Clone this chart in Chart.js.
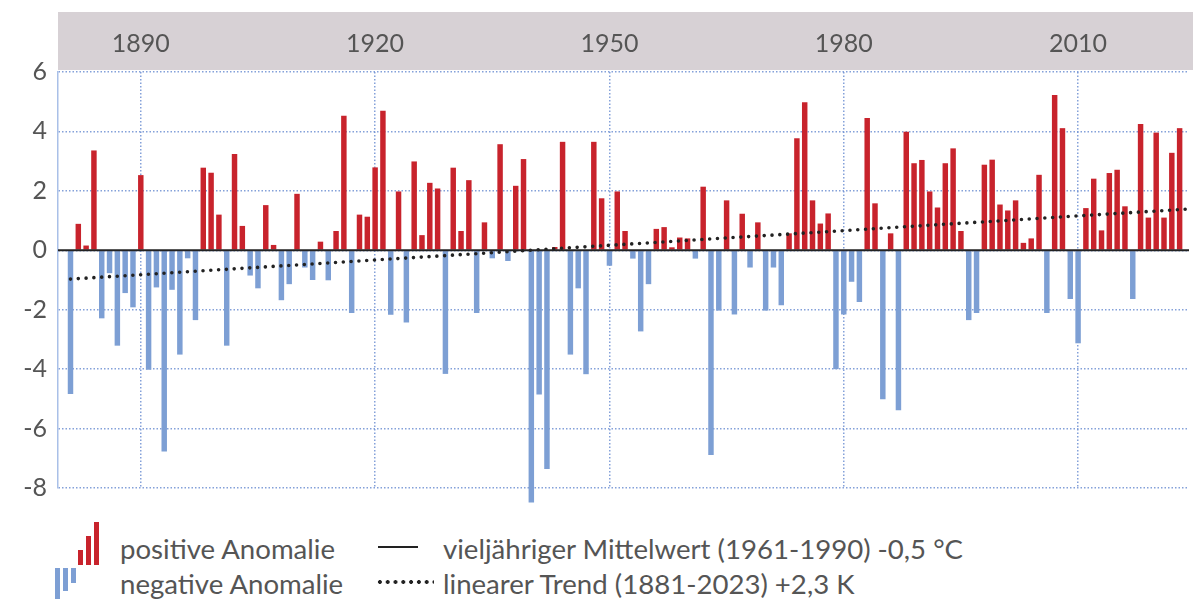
<!DOCTYPE html>
<html><head><meta charset="utf-8">
<script src="https://cdn.jsdelivr.net/npm/chart.js@4"></script>
<style>
html,body{margin:0;padding:0;background:#fff;width:1193px;height:600px;overflow:hidden;font-family:Lato,sans-serif;}
#wrap{position:absolute;left:0;top:0;width:1193px;height:515px;}
.leg{position:absolute;font-size:27.6px;color:#555;line-height:28px;white-space:nowrap;}
.ib{position:absolute;width:5px;}
</style></head><body>
<div id="wrap"><canvas id="c" width="1193" height="515"></canvas></div>
<div class="ib" style="left:78px;top:550px;height:15px;background:#c8232c"></div>
<div class="ib" style="left:86px;top:536px;height:29px;background:#c8232c"></div>
<div class="ib" style="left:94px;top:522px;height:43px;background:#c8232c"></div>
<div class="ib" style="left:55px;top:568px;height:31px;background:#7d9fd4"></div>
<div class="ib" style="left:63px;top:568px;height:23px;background:#7d9fd4"></div>
<div class="ib" style="left:71px;top:568px;height:15px;background:#7d9fd4"></div>
<div class="leg" style="left:120px;top:535px">positive Anomalie</div>
<div class="leg" style="left:120px;top:570px">negative Anomalie</div>
<div style="position:absolute;left:378px;top:546px;width:40px;height:2px;background:#222"></div>
<div style="position:absolute;left:376px;top:579px;width:58px;height:6px;background:radial-gradient(circle,#222 1.7px,transparent 2.2px);background-size:7.8px 6px;background-repeat:repeat-x"></div>
<div class="leg" style="left:443px;top:535px">vieljähriger Mittelwert (1961-1990) -0,5 °C</div>
<div class="leg" style="left:443px;top:570px">linearer Trend (1881-2023) +2,3 K</div>
<script>
const years = [
1881,1882,1883,1884,1885,1886,1887,1888,1889,1890,
1891,1892,1893,1894,1895,1896,1897,1898,1899,1900,
1901,1902,1903,1904,1905,1906,1907,1908,1909,1910,
1911,1912,1913,1914,1915,1916,1917,1918,1919,1920,
1921,1922,1923,1924,1925,1926,1927,1928,1929,1930,
1931,1932,1933,1934,1935,1936,1937,1938,1939,1940,
1941,1942,1943,1944,1945,1946,1947,1948,1949,1950,
1951,1952,1953,1954,1955,1956,1957,1958,1959,1960,
1961,1962,1963,1964,1965,1966,1967,1968,1969,1970,
1971,1972,1973,1974,1975,1976,1977,1978,1979,1980,
1981,1982,1983,1984,1985,1986,1987,1988,1989,1990,
1991,1992,1993,1994,1995,1996,1997,1998,1999,2000,
2001,2002,2003,2004,2005,2006,2007,2008,2009,2010,
2011,2012,2013,2014,2015,2016,2017,2018,2019,2020,
2021,2022,2023];
const anomalies = [
-4.84,0.89,0.16,3.36,-2.29,-0.77,-3.21,-1.44,-1.92,2.53,
-4.02,-1.25,-6.77,-1.33,-3.51,-0.27,-2.35,2.78,2.61,1.20,
-3.21,3.24,0.82,-0.85,-1.28,1.52,0.18,-1.68,-1.14,1.90,
-0.58,-1.00,0.29,-1.01,0.65,4.53,-2.11,1.20,1.13,2.79,
4.70,-2.17,1.98,-2.43,2.99,0.51,2.27,2.08,-4.16,2.78,
0.65,2.36,-2.11,0.94,-0.27,3.57,-0.36,2.17,3.07,-8.49,
-4.85,-7.36,0.11,3.65,-3.51,-1.28,-4.17,3.65,1.75,-0.52,
1.98,0.65,-0.28,-2.73,-1.14,0.72,0.78,0.10,0.43,0.40,
-0.28,2.14,-6.89,-2.03,1.68,-2.16,1.23,-0.58,0.94,-2.03,
-0.58,-1.85,0.57,3.77,4.98,1.68,0.90,1.24,-4.00,-2.16,
-1.06,-1.74,4.45,1.58,-5.01,0.57,-5.38,3.99,2.93,3.04,
1.98,1.44,2.93,3.43,0.65,-2.35,-2.11,2.88,3.05,1.54,
1.34,1.68,0.25,0.40,2.54,-2.11,5.23,4.11,-1.64,-3.13,
1.42,2.41,0.67,2.60,2.71,1.48,-1.64,4.25,1.10,3.96,
1.10,3.28,4.11];
const trendYears = [1881, 2024.2];
const trendValues = [-0.97, 1.39];
const meanValue = 0;
const yTicks = [-8,-6,-4,-2,0,2,4,6];
const xTicks = [1890,1920,1950,1980,2010];

const RED = '#c8232c', BLUE = '#7d9fd4';
const GRID = 'rgba(110,145,210,0.85)';
const FONT = 'Lato, sans-serif';

const bandPlugin = {
  id: 'band',
  beforeDraw(chart) {
    const {ctx, chartArea} = chart;
    ctx.save();
    ctx.fillStyle = '#d7d1d5';
    ctx.fillRect(chartArea.left, 12, chart.width - chartArea.left, chartArea.top - 2 - 12);
    ctx.restore();
  }
};
const meanPlugin = {
  id: 'meanline',
  afterDatasetDraw(chart, args) {
    if (args.meta.type !== 'bar') return;
    const {ctx, chartArea} = chart;
    const y = chart.scales.y.getPixelForValue(meanValue);
    ctx.save();
    ctx.strokeStyle = '#222';
    ctx.lineWidth = 2;
    ctx.beginPath();
    ctx.moveTo(chartArea.left, y);
    ctx.lineTo(chartArea.right, y);
    ctx.stroke();
    ctx.restore();
  }
};

new Chart(document.getElementById('c'), {
  type: 'bar',
  data: {
    datasets: [
      {
        type: 'bar',
        order: 1,
        data: years.map((yr, i) => ({x: yr, y: anomalies[i]})),
        backgroundColor: anomalies.map(v => v >= 0 ? RED : BLUE),
        barPercentage: 0.7,
        categoryPercentage: 1.0,
        clip: false
      },
      {
        type: 'line',
        order: 0,
        data: trendYears.map((yr, i) => ({x: yr, y: trendValues[i]})),
        borderColor: '#222',
        borderWidth: 3.6,
        borderDash: [0, 7.81],
        borderCapStyle: 'round',
        pointRadius: 0,
        fill: false,
        tension: 0
      }
    ]
  },
  options: {
    responsive: false,
    animation: false,
    events: [],
    layout: {padding: {left: 0, right: 4, top: 0, bottom: 27}},
    plugins: {legend: {display: false}, tooltip: {enabled: false}},
    scales: {
      x: {
        type: 'linear',
        position: 'top',
        offset: false,
        min: 1879.4,
        max: 2024.2,
        afterBuildTicks: s => { s.ticks = xTicks.map(v => ({value: v})); },
        afterFit: s => { s.height = 72; },
        ticks: {
          color: '#555',
          font: {family: FONT, size: 25},
          padding: 13,
          maxRotation: 0,
          callback: v => String(v)
        },
        grid: {color: GRID, lineWidth: 1.5, drawTicks: false, offset: false},
        border: {display: false, dash: [1.5, 2]}
      },
      y: {
        min: -8,
        max: 6,
        afterBuildTicks: s => { s.ticks = yTicks.map(v => ({value: v})); },
        afterFit: s => { s.width = 58; },
        ticks: {
          color: '#555',
          font: {family: FONT, size: 25},
          padding: 11
        },
        grid: {color: GRID, lineWidth: 1.5, drawTicks: false},
        border: {display: true, color: '#a9c0e8', width: 1.5, dash: [1.5, 2]}
      }
    }
  },
  plugins: [bandPlugin, meanPlugin]
});
</script>
</body></html>
